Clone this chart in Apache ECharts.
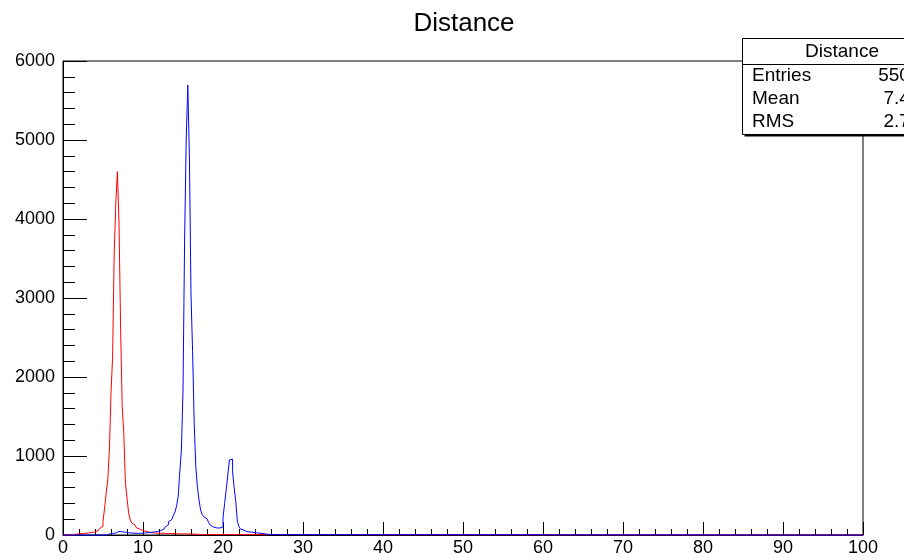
<!DOCTYPE html>
<html>
<head>
<meta charset="utf-8">
<title>Distance</title>
<script src="https://cdn.jsdelivr.net/npm/echarts@6/dist/echarts.min.js"></script>
<style>
  html, body { margin: 0; padding: 0; background: #fff; }
  #chart { width: 904px; height: 559px; }
</style>
</head>
<body>
<div id="chart"></div>
<script>
// histogram binning (bin width in x units)
const binWidth = 0.2
const xTicks = [0, 10, 20, 30, 40, 50, 60, 70, 80, 90, 100]
const yTicks = [0, 1000, 2000, 3000, 4000, 5000, 6000]

// red histogram, first bin starts at redStart
const redStart = 1.2
const redCounts = [
  5, 10, 12, 14, 16, 18, 20, 22, 24, 26, 28, 32, 36, 40, 46, 55, 68, 85, 110,
  170, 340, 530, 700, 1075, 1800, 2250, 3570, 4200, 4600, 3965, 2620, 1625, 1290,
  660, 470, 280, 190, 150, 125, 105, 90, 75, 63, 56, 50, 45, 40, 36, 32, 28, 26,
  24, 22, 22, 20, 22, 20, 20, 18, 20, 18, 18, 16, 18, 16, 15, 16, 14, 15, 14, 12,
  14, 12, 12, 10, 12, 10, 10, 8, 6, 4
]

// blue histogram, first bin starts at blueStart
const blueStart = 5.4
const blueCounts = [
  5, 12, 18, 20, 22, 25, 30, 45, 50, 40, 48, 35, 30, 28, 25, 25, 22, 22, 20, 22,
  20, 22, 25, 25, 28, 30, 30, 32, 35, 38, 40, 45, 50, 55, 62, 72, 88, 105, 130,
  170, 195, 215, 250, 290, 370, 485, 800, 1075, 1835, 3734, 5000, 5696, 4800,
  3038, 2320, 1415, 865, 610, 445, 316, 260, 230, 205, 190, 160, 125, 100, 92, 90,
  88, 88, 95, 105, 215, 400, 570, 760, 950, 960, 800, 595, 420, 170, 105, 75, 63,
  50, 42, 40, 38, 36, 34, 30, 28, 25, 22, 20, 18, 15, 12, 10, 8, 6, 5, 3
]

// stats box text
const statsTitle = 'Distance'
const statsNames = ['Entries', 'Mean', 'RMS']
const statsValues = ['55000', '7.436', '2.712']

function toSteps(start, counts) {
  const pts = [[0, 0]]
  counts.forEach((c, i) => pts.push([+(start + i * binWidth).toFixed(3), c]))
  pts.push([+(start + counts.length * binWidth).toFixed(3), 0])
  pts.push([100, 0])
  return pts
}

const chart = echarts.init(document.getElementById('chart'))
const font = 'Liberation Sans, Helvetica, Arial, sans-serif'

// stats box drawn on top right, partly off canvas like the original
const box = { x: 742.5, y: 38.5, w: 200, h: 96 }
const statsGraphics = [
  { type: 'rect', z: 10, shape: { x: box.x + 2, y: box.y + 2, width: box.w, height: box.h }, style: { fill: '#000' } },
  { type: 'rect', z: 11, shape: { x: box.x, y: box.y, width: box.w, height: box.h }, style: { fill: '#fff', stroke: '#000', lineWidth: 1 } },
  { type: 'line', z: 12, shape: { x1: box.x, y1: 64.5, x2: box.x + box.w, y2: 64.5 }, style: { stroke: '#000', lineWidth: 1 } },
  { type: 'text', z: 12, x: 842, y: 52, style: { text: statsTitle, font: '19px ' + font, fill: '#000', align: 'center', verticalAlign: 'middle' } }
]
statsNames.forEach((name, i) => {
  statsGraphics.push({ type: 'text', z: 12, x: 752, y: 76 + i * 23, style: { text: name, font: '19px ' + font, fill: '#000', verticalAlign: 'middle' } })
  statsGraphics.push({ type: 'text', z: 12, x: 931, y: 76 + i * 23, style: { text: statsValues[i], font: '19px ' + font, fill: '#000', align: 'right', verticalAlign: 'middle' } })
})

const option = {
  animation: false,
  title: {
    text: 'Distance',
    left: 459,
    textAlign: 'center',
    top: 6,
    textStyle: { fontFamily: font, fontWeight: 'normal', fontSize: 26, color: '#000' }
  },
  grid: {
    left: 63, right: 41, top: 61, bottom: 24,
    show: true, borderColor: '#000', borderWidth: 1
  },
  xAxis: {
    type: 'value',
    min: xTicks[0],
    max: xTicks[xTicks.length - 1],
    interval: xTicks[1] - xTicks[0],
    axisLine: { lineStyle: { color: '#000' } },
    axisTick: { inside: true, length: 13, lineStyle: { color: '#000' } },
    minorTick: { show: true, splitNumber: 5, length: 6, lineStyle: { color: '#000' } },
    splitLine: { show: false },
    axisLabel: { color: '#000', fontFamily: font, fontSize: 18, margin: 4, formatter: v => String(v) }
  },
  yAxis: {
    type: 'value',
    min: yTicks[0],
    max: yTicks[yTicks.length - 1],
    interval: yTicks[1] - yTicks[0],
    axisLine: { show: true, lineStyle: { color: '#000' } },
    axisTick: { show: true, inside: true, length: 24, lineStyle: { color: '#000' } },
    minorTick: { show: true, splitNumber: 5, length: 12, lineStyle: { color: '#000' } },
    splitLine: { show: false },
    axisLabel: { color: '#000', fontFamily: font, fontSize: 18, margin: 8, formatter: v => String(v) }
  },
  series: [
    {
      type: 'line', step: 'end', symbol: 'none', clip: false,
      data: toSteps(redStart, redCounts),
      lineStyle: { color: '#ff0000', width: 1 }
    },
    {
      type: 'line', step: 'end', symbol: 'none', clip: false,
      data: toSteps(blueStart, blueCounts),
      lineStyle: { color: '#0000ff', width: 1 }
    }
  ],
  graphic: statsGraphics
}

chart.setOption(option)
</script>
</body>
</html>
